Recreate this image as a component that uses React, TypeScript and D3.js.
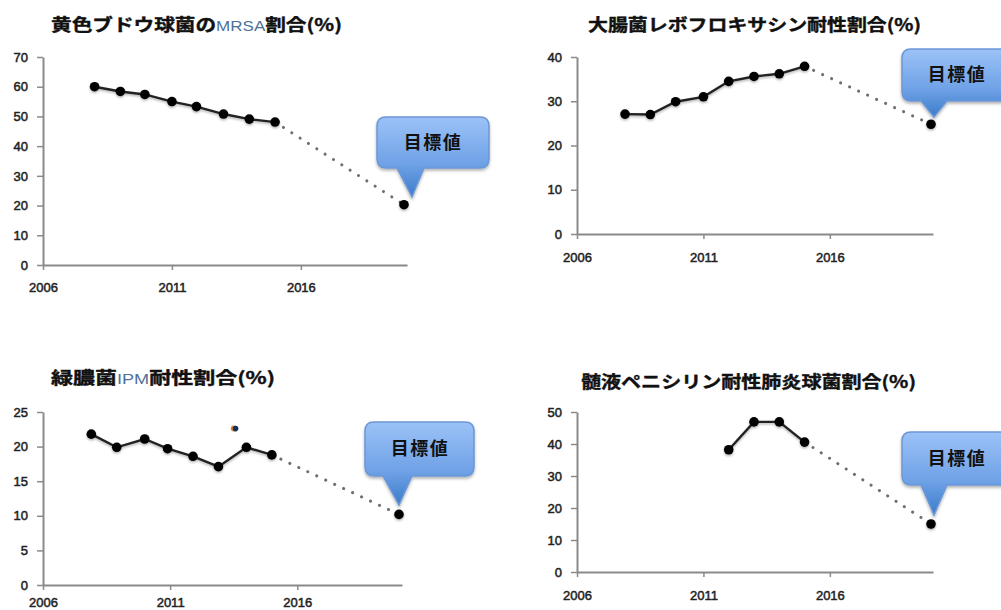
import React, { useEffect, useRef } from "react";
import * as d3 from "d3";

// Observed rates and targets for each organism (years carry small plotted offsets)
const mrsaYears = [2008, 2009, 2009.95, 2011, 2011.95, 2013, 2014, 2015, 2020];
const mrsaValues = [60, 58.4, 57.4, 55, 53.3, 50.8, 49.1, 48.1, 20.3];

const ecoliYears = [2007.9, 2008.9, 2009.9, 2011, 2012, 2013, 2014, 2015, 2020];
const ecoliValues = [27.1, 27, 29.9, 31, 34.5, 35.6, 36.2, 37.9, 24.8];

const pseudoYears = [2007.9, 2008.9, 2010, 2010.9, 2011.9, 2012.9, 2014, 2015, 2020];
const pseudoValues = [21.8, 19.9, 21.1, 19.7, 18.6, 17.1, 19.9, 18.8, 10.2];

const pneumoYears = [2012, 2013, 2014, 2015, 2020];
const pneumoValues = [38.2, 46.9, 46.9, 40.6, 15];

// A lone stray marker in the Pseudomonas panel
const strayYear = [2013.55];
const strayValue = [22.6];

const xTicks = [2006, 2011, 2016];
const mrsaTicks = [0, 10, 20, 30, 40, 50, 60, 70];
const ecoliTicks = [0, 10, 20, 30, 40];
const pseudoTicks = [0, 5, 10, 15, 20, 25];
const pneumoTicks = [0, 10, 20, 30, 40, 50];

const calloutLabel = "目標値";
const FONT_CJK = "'Noto Sans CJK JP', sans-serif";
const FONT_NUM = "'Liberation Sans', Arial, sans-serif";

type TitlePart = { text: string; latin?: boolean };
type Panel = {
  key: string;
  title: TitlePart[];
  titleX: number; titleW: number; titleY: number;
  years: number[]; values: number[]; ticks: number[];
  x0: number; x1: number; xEnd: number;
  y0: number; yTop: number; xPad: number;
  box: [number, number, number, number];
  tip: [number, number];
  base: [number, number];
  labelX: number;
};

const panels: Panel[] = [
  {
    key: "mrsa",
    title: [{ text: "黄色ブドウ球菌の" }, { text: "MRSA", latin: true }, { text: "割合(%)" }],
    titleX: 51, titleW: 291, titleY: 31,
    years: mrsaYears, values: mrsaValues, ticks: mrsaTicks,
    x0: 43, x1: 404, xEnd: 407, y0: 265, yTop: 57, xPad: 13,
    box: [377, 117, 489, 168], tip: [412, 197], base: [397, 424], labelX: 433,
  },
  {
    key: "ecoli",
    title: [{ text: "大腸菌レボフロキサシン耐性割合(%)" }],
    titleX: 588, titleW: 333, titleY: 31,
    years: ecoliYears, values: ecoliValues, ticks: ecoliTicks,
    x0: 577, x1: 931, xEnd: 933, y0: 234, yTop: 57, xPad: 14,
    box: [902, 49, 1014, 101], tip: [934, 117], base: [921, 947], labelX: 957,
  },
  {
    key: "pseudo",
    title: [{ text: "緑膿菌" }, { text: "IPM", latin: true }, { text: "耐性割合(%)" }],
    titleX: 51, titleW: 224, titleY: 384,
    years: pseudoYears, values: pseudoValues, ticks: pseudoTicks,
    x0: 43, x1: 399, xEnd: 402, y0: 585, yTop: 412, xPad: 8,
    box: [365, 422, 474, 476], tip: [399, 505], base: [383, 412], labelX: 420,
  },
  {
    key: "pneumo",
    title: [{ text: "髄液ペニシリン耐性肺炎球菌割合(%)" }],
    titleX: 581, titleW: 335, titleY: 388,
    years: pneumoYears, values: pneumoValues, ticks: pneumoTicks,
    x0: 577, x1: 931, xEnd: 933, y0: 572, yTop: 412, xPad: 14,
    box: [902, 432, 1014, 485], tip: [934, 515], base: [921, 947], labelX: 957,
  },
];

function calloutPath(p: Panel) {
  const [l, t, r, b] = p.box;
  const rad = 9;
  return [
    `M${l + rad},${t}`, `H${r - rad}`, `Q${r},${t} ${r},${t + rad}`,
    `V${b - rad}`, `Q${r},${b} ${r - rad},${b}`,
    `H${p.base[1]}`, `L${p.tip[0]},${p.tip[1]}`, `L${p.base[0]},${b}`,
    `H${l + rad}`, `Q${l},${b} ${l},${b - rad}`, `V${t + rad}`, `Q${l},${t} ${l + rad},${t}`, "Z",
  ].join("");
}

function ChartPanel({ p }: { p: Panel }) {
  const xAxisRef = useRef<SVGGElement>(null);
  const yAxisRef = useRef<SVGGElement>(null);

  const x = d3.scaleLinear().domain([2006, 2020]).range([p.x0, p.x1]);
  const y = d3.scaleLinear().domain([0, p.ticks[p.ticks.length - 1]]).range([p.y0, p.yTop]);
  const lineGen = d3.line<[number, number]>().x((d) => x(d[0])).y((d) => y(d[1]));
  const points = p.years.map((yr, i) => [yr, p.values[i]] as [number, number]);
  const observed = points.slice(0, -1);
  const forecast = points.slice(-2);

  useEffect(() => {
    const xScale = x.copy().domain([2006, x.invert(p.xEnd)]).range([p.x0, p.xEnd]);
    const styleAxis = (g: d3.Selection<SVGGElement, unknown, null, undefined>) => {
      g.selectAll(".domain").attr("stroke", "#8a8a8a").attr("stroke-width", 2);
      g.selectAll(".tick line").attr("stroke", "#8a8a8a").attr("stroke-width", 1.5);
      g.selectAll("text")
        .attr("fill", "#222")
        .attr("stroke", "#222")
        .attr("stroke-width", 0.5)
        .style("font-family", FONT_NUM)
        .style("font-size", "13px");
    };
    const gx = d3.select(xAxisRef.current!);
    gx.call(d3.axisBottom(xScale).tickValues(xTicks).tickFormat(d3.format("d")).tickSize(5).tickSizeOuter(0).tickPadding(p.xPad));
    styleAxis(gx);
    const gy = d3.select(yAxisRef.current!);
    gy.call(d3.axisLeft(y).tickValues(p.ticks).tickFormat(d3.format("d")).tickSize(6).tickSizeOuter(0).tickPadding(9));
    styleAxis(gy);
  }, []);

  return (
    <g>
      <text x={p.titleX} y={p.titleY} textLength={p.titleW} lengthAdjust="spacingAndGlyphs"
        fontFamily={FONT_CJK} fontWeight={700} fontSize={17} fill="#111">
        {p.title.map((part, i) => (
          <tspan key={i} fontWeight={part.latin ? 400 : 700} fontSize={part.latin ? 14 : 17}
            fill={part.latin ? "#4d7199" : "#111"} stroke={part.latin ? "none" : "#111"} strokeWidth={0.4}
            fontFamily={part.latin ? FONT_NUM : FONT_CJK}>
            {part.text}
          </tspan>
        ))}
      </text>

      <g ref={yAxisRef} transform={`translate(${p.x0},0)`} />
      <g ref={xAxisRef} transform={`translate(0,${p.y0})`} />

      <path d={lineGen(forecast)!} fill="none" stroke="#6e6e6e" strokeWidth={3}
        strokeDasharray="0.1 9.8" strokeLinecap="round" />

      <g filter="url(#markShadow)">
        <path d={lineGen(observed)!} fill="none" stroke="#222" strokeWidth={2.4} />
        {points.map((d, i) => (
          <circle key={i} cx={x(d[0])} cy={y(d[1])} r={4.8} fill="#000" />
        ))}
      </g>

      <path d={calloutPath(p)} fill="url(#calloutFill)" stroke="#6c97d6" strokeWidth={1.5}
        filter="url(#calloutShadow)" />
      <text x={p.labelX} y={(p.box[1] + p.box[3]) / 2 + 6} textAnchor="middle"
        fontFamily={FONT_CJK} fontWeight={700} fontSize={18} letterSpacing={1.5} fill="#111">
        {calloutLabel}
      </text>

      {p.key === "pseudo" && strayYear.map((yr, i) => (
        <g key={i}>
          <circle cx={x(yr) - 1.2} cy={y(strayValue[i])} r={3} fill="#d9822b" />
          <circle cx={x(yr) + 0.6} cy={y(strayValue[i])} r={2.8} fill="#12305c" />
        </g>
      ))}
    </g>
  );
}

export default function App() {
  return (
    <svg width={1001} height={610} viewBox="0 0 1001 610"
      style={{ position: "absolute", top: 0, left: 0, display: "block", background: "#fff" }}>
      <defs>
        <linearGradient id="calloutFill" x1="0" y1="0" x2="0" y2="1">
          <stop offset="0" stopColor="#9cc2f7" />
          <stop offset="0.6" stopColor="#6ea1e6" />
          <stop offset="1" stopColor="#3b7cc9" />
        </linearGradient>
        <filter id="calloutShadow" x="-20%" y="-20%" width="140%" height="140%">
          <feDropShadow dx="0" dy="2" stdDeviation="1.5" floodColor="#000" floodOpacity="0.3" />
        </filter>
        <filter id="markShadow" x="-10%" y="-10%" width="120%" height="130%">
          <feDropShadow dx="0" dy="1.5" stdDeviation="1.2" floodColor="#000" floodOpacity="0.3" />
        </filter>
      </defs>
      {panels.map((p) => <ChartPanel key={p.key} p={p} />)}
    </svg>
  );
}
